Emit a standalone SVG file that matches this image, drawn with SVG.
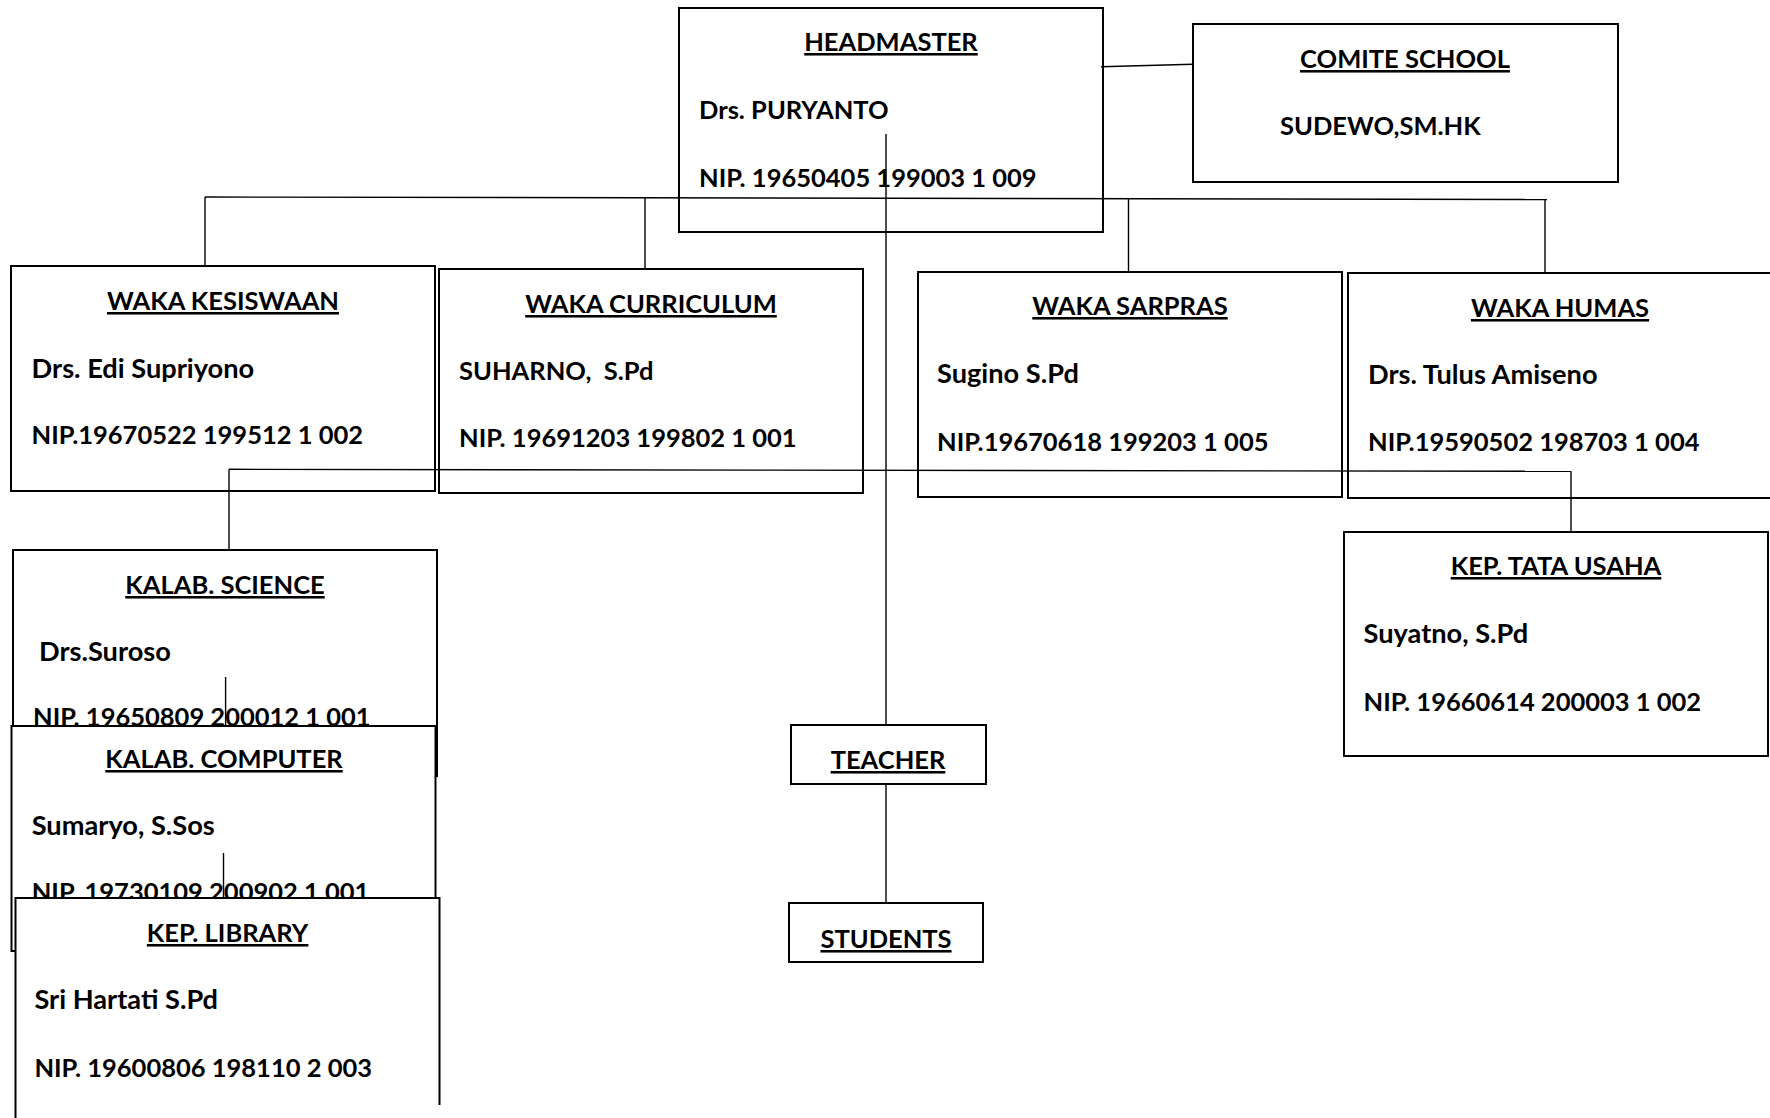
<svg xmlns="http://www.w3.org/2000/svg" width="1770" height="1118" viewBox="0 0 1770 1118">
<style>
.box{fill:#fff;stroke:#000;stroke-width:2}
text{font-family:Lato,"Carlito","Liberation Sans",sans-serif;font-weight:bold;font-size:25.5px;fill:#000}
.t{text-anchor:middle;text-decoration:underline}
.n{font-size:27.2px}
.pre{white-space:pre}
.con{fill:none;stroke:#000;stroke-width:1.4}
</style>
<rect width="1770" height="1118" fill="#fff"/>
<g id="headmaster">
<rect class="box" x="679" y="8" width="424" height="224"/>
<text class="t" x="891" y="51">HEADMASTER</text>
<text x="699" y="119">Drs. PURYANTO</text>
<text x="699" y="187">NIP. 19650405 199003 1 009</text>
</g>
<g id="comite">
<rect class="box" x="1193" y="24" width="425" height="158"/>
<text class="t" x="1405" y="68">COMITE SCHOOL</text>
<text x="1280" y="135">SUDEWO,SM.HK</text>
</g>
<g id="waka-kesiswaan">
<rect class="box" x="11" y="266" width="424" height="225"/>
<text class="t" x="223" y="310">WAKA KESISWAAN</text>
<text class="n" x="31.6" y="378">Drs. Edi Supriyono</text>
<text x="31.6" y="444">NIP.19670522 199512 1 002</text>
</g>
<g id="waka-curriculum">
<rect class="box" x="439" y="269" width="424" height="224"/>
<text class="t" x="651" y="313">WAKA CURRICULUM</text>
<text class="pre" x="459" y="380">SUHARNO,  S.Pd</text>
<text x="459" y="447">NIP. 19691203 199802 1 001</text>
</g>
<g id="waka-sarpras">
<rect class="box" x="918" y="272" width="424" height="225"/>
<text class="t" x="1130" y="315">WAKA SARPRAS</text>
<text class="n" x="937" y="383">Sugino S.Pd</text>
<text x="937" y="451">NIP.19670618 199203 1 005</text>
</g>
<g id="waka-humas">
<rect class="box" x="1348" y="273" width="424" height="225"/>
<text class="t" x="1560" y="317">WAKA HUMAS</text>
<text class="n" x="1368" y="384">Drs. Tulus Amiseno</text>
<text x="1368" y="451">NIP.19590502 198703 1 004</text>
</g>
<g id="kep-tata-usaha">
<rect class="box" x="1344" y="532" width="424" height="224"/>
<text class="t" x="1556" y="575">KEP. TATA USAHA</text>
<text class="n" x="1363.5" y="643">Suyatno, S.Pd</text>
<text x="1363.5" y="711">NIP. 19660614 200003 1 002</text>
</g>
<g id="kalab-science">
<rect class="box" x="13" y="550" width="424" height="226"/>
<text class="t" x="225" y="594">KALAB. SCIENCE</text>
<text class="n" x="39" y="661">Drs.Suroso</text>
<text x="33" y="726">NIP. 19650809 200012 1 001</text>
</g>
<g id="kalab-computer">
<rect class="box" x="11.5" y="726" width="424" height="225"/>
<text class="t" x="224" y="768">KALAB. COMPUTER</text>
<text class="n" x="31.7" y="835">Sumaryo, S.Sos</text>
<text x="31.7" y="901">NIP. 19730109 200902 1 001</text>
</g>
<g id="kep-library">
<rect x="15.5" y="898" width="424" height="230" fill="#fff"/>
<path d="M15.5,1125 V898 H439.5 V1105" fill="none" stroke="#000" stroke-width="2"/>
<text class="t" x="227.6" y="942">KEP. LIBRARY</text>
<text class="n" x="34.4" y="1009">Sri Hartati S.Pd</text>
<text x="34.4" y="1077">NIP. 19600806 198110 2 003</text>
</g>
<g id="teacher">
<rect class="box" x="791" y="725" width="195" height="59"/>
<text class="t" x="888" y="769">TEACHER</text>
</g>
<g id="students">
<rect class="box" x="789" y="903" width="194" height="59"/>
<text class="t" x="886" y="948">STUDENTS</text>
</g>
<g id="connectors">
<path class="con" d="M1101,66.7 L1193,64.3"/>
<path class="con" d="M205,197 L1547,199.5"/>
<path class="con" d="M205,197 V266"/>
<path class="con" d="M645,197.5 V269"/>
<path class="con" d="M1128.5,198.7 V272"/>
<path class="con" d="M1545,199.5 V273"/>
<path class="con" d="M886,134 V725"/>
<path class="con" d="M886,784 V903"/>
<path class="con" d="M229,469.3 L1571,471.3"/>
<path class="con" d="M229,469.3 V550"/>
<path class="con" d="M1571,471.3 V532"/>
<path class="con" d="M225.6,677 V726"/>
<path class="con" d="M223.5,853 V898"/>
</g>
</svg>
